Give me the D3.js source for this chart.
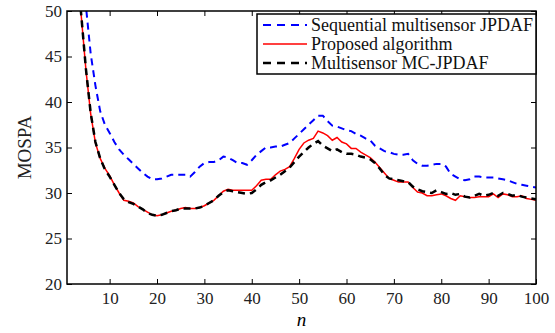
<!DOCTYPE html>
<meta charset="utf-8">
<style>
  body { margin: 0; background: #fff; }
  text { font-family: "Liberation Serif", "DejaVu Serif", serif; }
</style>
<body></body>
<script src="https://d3js.org/d3.v7.min.js"></script>
<script>

const width = 555, height = 333;
const margin = {left: 67, right: 19, top: 11, bottom: 49};

// n = 1..100
const steps = d3.range(1, 101);

// Sequential multisensor JPDAF
const seqJPDAF = [75, 68, 61, 55.5, 50.5, 45.3, 41.8, 39.0, 37.5, 36.6,
  35.6, 34.8, 34.2, 33.7, 33.2, 32.7, 32.2, 31.8, 31.5, 31.5,
  31.6, 31.8, 32.0, 32.0, 32.0, 32.0, 31.8, 32.3, 32.9, 33.3,
  33.4, 33.4, 33.6, 34.0, 33.9, 33.6, 33.3, 33.3, 33.1, 33.6,
  34.2, 34.6, 35.0, 35.0, 35.1, 35.1, 35.3, 35.5, 36.0, 36.5,
  37.0, 37.5, 38.0, 38.5, 38.5, 37.9, 37.4, 37.3, 37.1, 36.9,
  36.8, 36.5, 36.3, 36.0, 35.8, 35.2, 34.9, 34.6, 34.5, 34.3,
  34.2, 34.2, 34.3, 33.6, 33.2, 33.0, 33.0, 33.1, 33.2, 33.2,
  32.9, 32.1, 31.8, 31.5, 31.4, 31.5, 31.8, 31.8, 31.7, 31.7,
  31.7, 31.6, 31.5, 31.4, 31.2, 31.0, 30.9, 30.8, 30.7, 30.6];

// Proposed algorithm
const proposed = [70, 62, 55, 49.5, 43.5, 38.7, 35.5, 33.8, 32.7, 31.9,
  30.9, 30.0, 29.2, 29.1, 28.9, 28.5, 28.2, 27.9, 27.6, 27.5,
  27.6, 27.8, 28.0, 28.1, 28.3, 28.4, 28.3, 28.3, 28.4, 28.6,
  28.9, 29.2, 29.7, 30.2, 30.4, 30.3, 30.3, 30.3, 30.3, 30.3,
  30.8, 31.4, 31.5, 31.5, 32.0, 32.4, 32.6, 32.9, 33.8, 34.8,
  35.5, 35.8, 36.0, 36.8, 36.6, 36.3, 35.8, 36.1, 35.6, 35.4,
  34.9, 34.9, 34.5, 34.2, 33.9, 33.4, 32.8, 32.2, 31.6, 31.4,
  31.2, 31.2, 31.2, 30.6, 30.1, 30.0, 29.7, 29.7, 29.8, 29.9,
  29.7, 29.4, 29.2, 29.7, 29.6, 29.5, 29.5, 29.6, 29.6, 29.6,
  29.9, 29.5, 29.9, 29.8, 29.6, 29.6, 29.7, 29.4, 29.3, 29.2];

// Multisensor MC-JPDAF
const mcJPDAF = [70, 62, 55, 49.6, 43.6, 38.8, 35.6, 33.8, 32.6, 31.8,
  30.9, 30.0, 29.3, 29.0, 28.8, 28.5, 28.2, 27.8, 27.6, 27.5,
  27.6, 27.8, 28.0, 28.1, 28.3, 28.3, 28.3, 28.3, 28.4, 28.6,
  28.9, 29.2, 29.7, 30.1, 30.3, 30.2, 30.1, 30.0, 29.9, 30.0,
  30.4, 30.9, 31.2, 31.4, 31.7, 32.0, 32.4, 32.8, 33.4, 34.0,
  34.5, 35.0, 35.4, 35.7, 35.2, 34.9, 34.6, 34.8, 34.5, 34.3,
  34.3, 34.2, 34.0, 33.9, 33.7, 33.3, 32.7, 32.0, 31.6, 31.5,
  31.4, 31.3, 31.2, 30.7, 30.4, 30.2, 30.1, 30.0, 30.3, 30.1,
  29.9, 30.0, 29.8, 29.9, 29.6, 29.5, 29.7, 29.9, 29.7, 29.8,
  30.0, 29.7, 30.0, 29.9, 29.7, 29.8, 29.6, 29.5, 29.4, 29.3];

const xTicks = d3.range(10, 101, 10);
const yTicks = d3.range(20, 51, 5);

const series = [
  {name: "Sequential multisensor JPDAF", values: seqJPDAF, color: "#0000ff", width: 2, dash: "7,5"},
  {name: "Proposed algorithm", values: proposed, color: "#ff0000", width: 1.5, dash: null},
  {name: "Multisensor MC-JPDAF", values: mcJPDAF, color: "#000000", width: 2.5, dash: "7,5"}
];

const svg = d3.select("body").append("svg")
    .attr("width", width)
    .attr("height", height);

const x = d3.scaleLinear().domain([1, 100]).range([margin.left, width - margin.right]);
const y = d3.scaleLinear().domain([20, 50]).range([height - margin.bottom, margin.top]);

svg.append("clipPath").attr("id", "plot")
  .append("rect")
    .attr("x", x(1)).attr("y", y(50))
    .attr("width", x(100) - x(1)).attr("height", y(20) - y(50));

const line = d3.line()
    .x((d, i) => x(steps[i]))
    .y(d => y(d));

svg.append("g")
    .attr("clip-path", "url(#plot)")
  .selectAll("path")
  .data(series)
  .join("path")
    .attr("fill", "none")
    .attr("stroke", d => d.color)
    .attr("stroke-width", d => d.width)
    .attr("stroke-dasharray", d => d.dash)
    .attr("d", d => line(d.values));

// axes: ticks pointing inward, on all four sides
const tickLen = 5;
svg.append("g")
    .attr("transform", `translate(0,${y(20)})`)
    .call(d3.axisBottom(x).tickValues(xTicks).tickSizeInner(-tickLen).tickSizeOuter(0).tickPadding(8))
    .call(g => g.select(".domain").remove());
svg.append("g")
    .attr("transform", `translate(0,${y(50)})`)
    .call(d3.axisTop(x).tickValues(xTicks).tickSizeInner(-tickLen).tickSizeOuter(0).tickFormat(""))
    .call(g => g.select(".domain").remove());
svg.append("g")
    .attr("transform", `translate(${x(1)},0)`)
    .call(d3.axisLeft(y).tickValues(yTicks).tickSizeInner(-tickLen).tickSizeOuter(0).tickPadding(5))
    .call(g => g.select(".domain").remove());
svg.append("g")
    .attr("transform", `translate(${x(100)},0)`)
    .call(d3.axisRight(y).tickValues(yTicks).tickSizeInner(-tickLen).tickSizeOuter(0).tickFormat(""))
    .call(g => g.select(".domain").remove());

svg.selectAll(".tick line").attr("stroke", "#000").attr("stroke-width", 1);
svg.selectAll(".tick text")
    .attr("font-family", "Liberation Serif")
    .attr("font-size", 17)
    .attr("fill", "#222");

svg.append("rect")
    .attr("x", x(1)).attr("y", y(50))
    .attr("width", x(100) - x(1)).attr("height", y(20) - y(50))
    .attr("fill", "none")
    .attr("stroke", "#000")
    .attr("stroke-width", 1.5);

// axis labels
svg.append("text")
    .attr("x", (x(1) + x(100)) / 2)
    .attr("y", 326)
    .attr("text-anchor", "middle")
    .attr("font-style", "italic")
    .attr("font-size", 19)
    .text("n");

svg.append("text")
    .attr("transform", `translate(31,${(y(20) + y(50)) / 2}) rotate(-90)`)
    .attr("text-anchor", "middle")
    .attr("font-size", 19)
    .attr("fill", "#222")
    .text("MOSPA");

// legend
const lg = svg.append("g").attr("transform", "translate(257,14)");
lg.append("rect")
    .attr("width", x(100) - 257).attr("height", 60)
    .attr("fill", "#fff")
    .attr("stroke", "#000")
    .attr("stroke-width", 1.5);

const row = lg.selectAll("g.row")
  .data(series)
  .join("g")
    .attr("class", "row")
    .attr("transform", (d, i) => `translate(0,${11 + i * 19})`);

row.append("line")
    .attr("x1", 6).attr("x2", 50)
    .attr("stroke", d => d.color)
    .attr("stroke-width", d => d.width)
    .attr("stroke-dasharray", d => d.dash ? "8,6" : null);

row.append("text")
    .attr("x", 54)
    .attr("dy", "0.33em")
    .attr("font-size", 18)
    .attr("fill", "#111")
    .text(d => d.name);

</script>
